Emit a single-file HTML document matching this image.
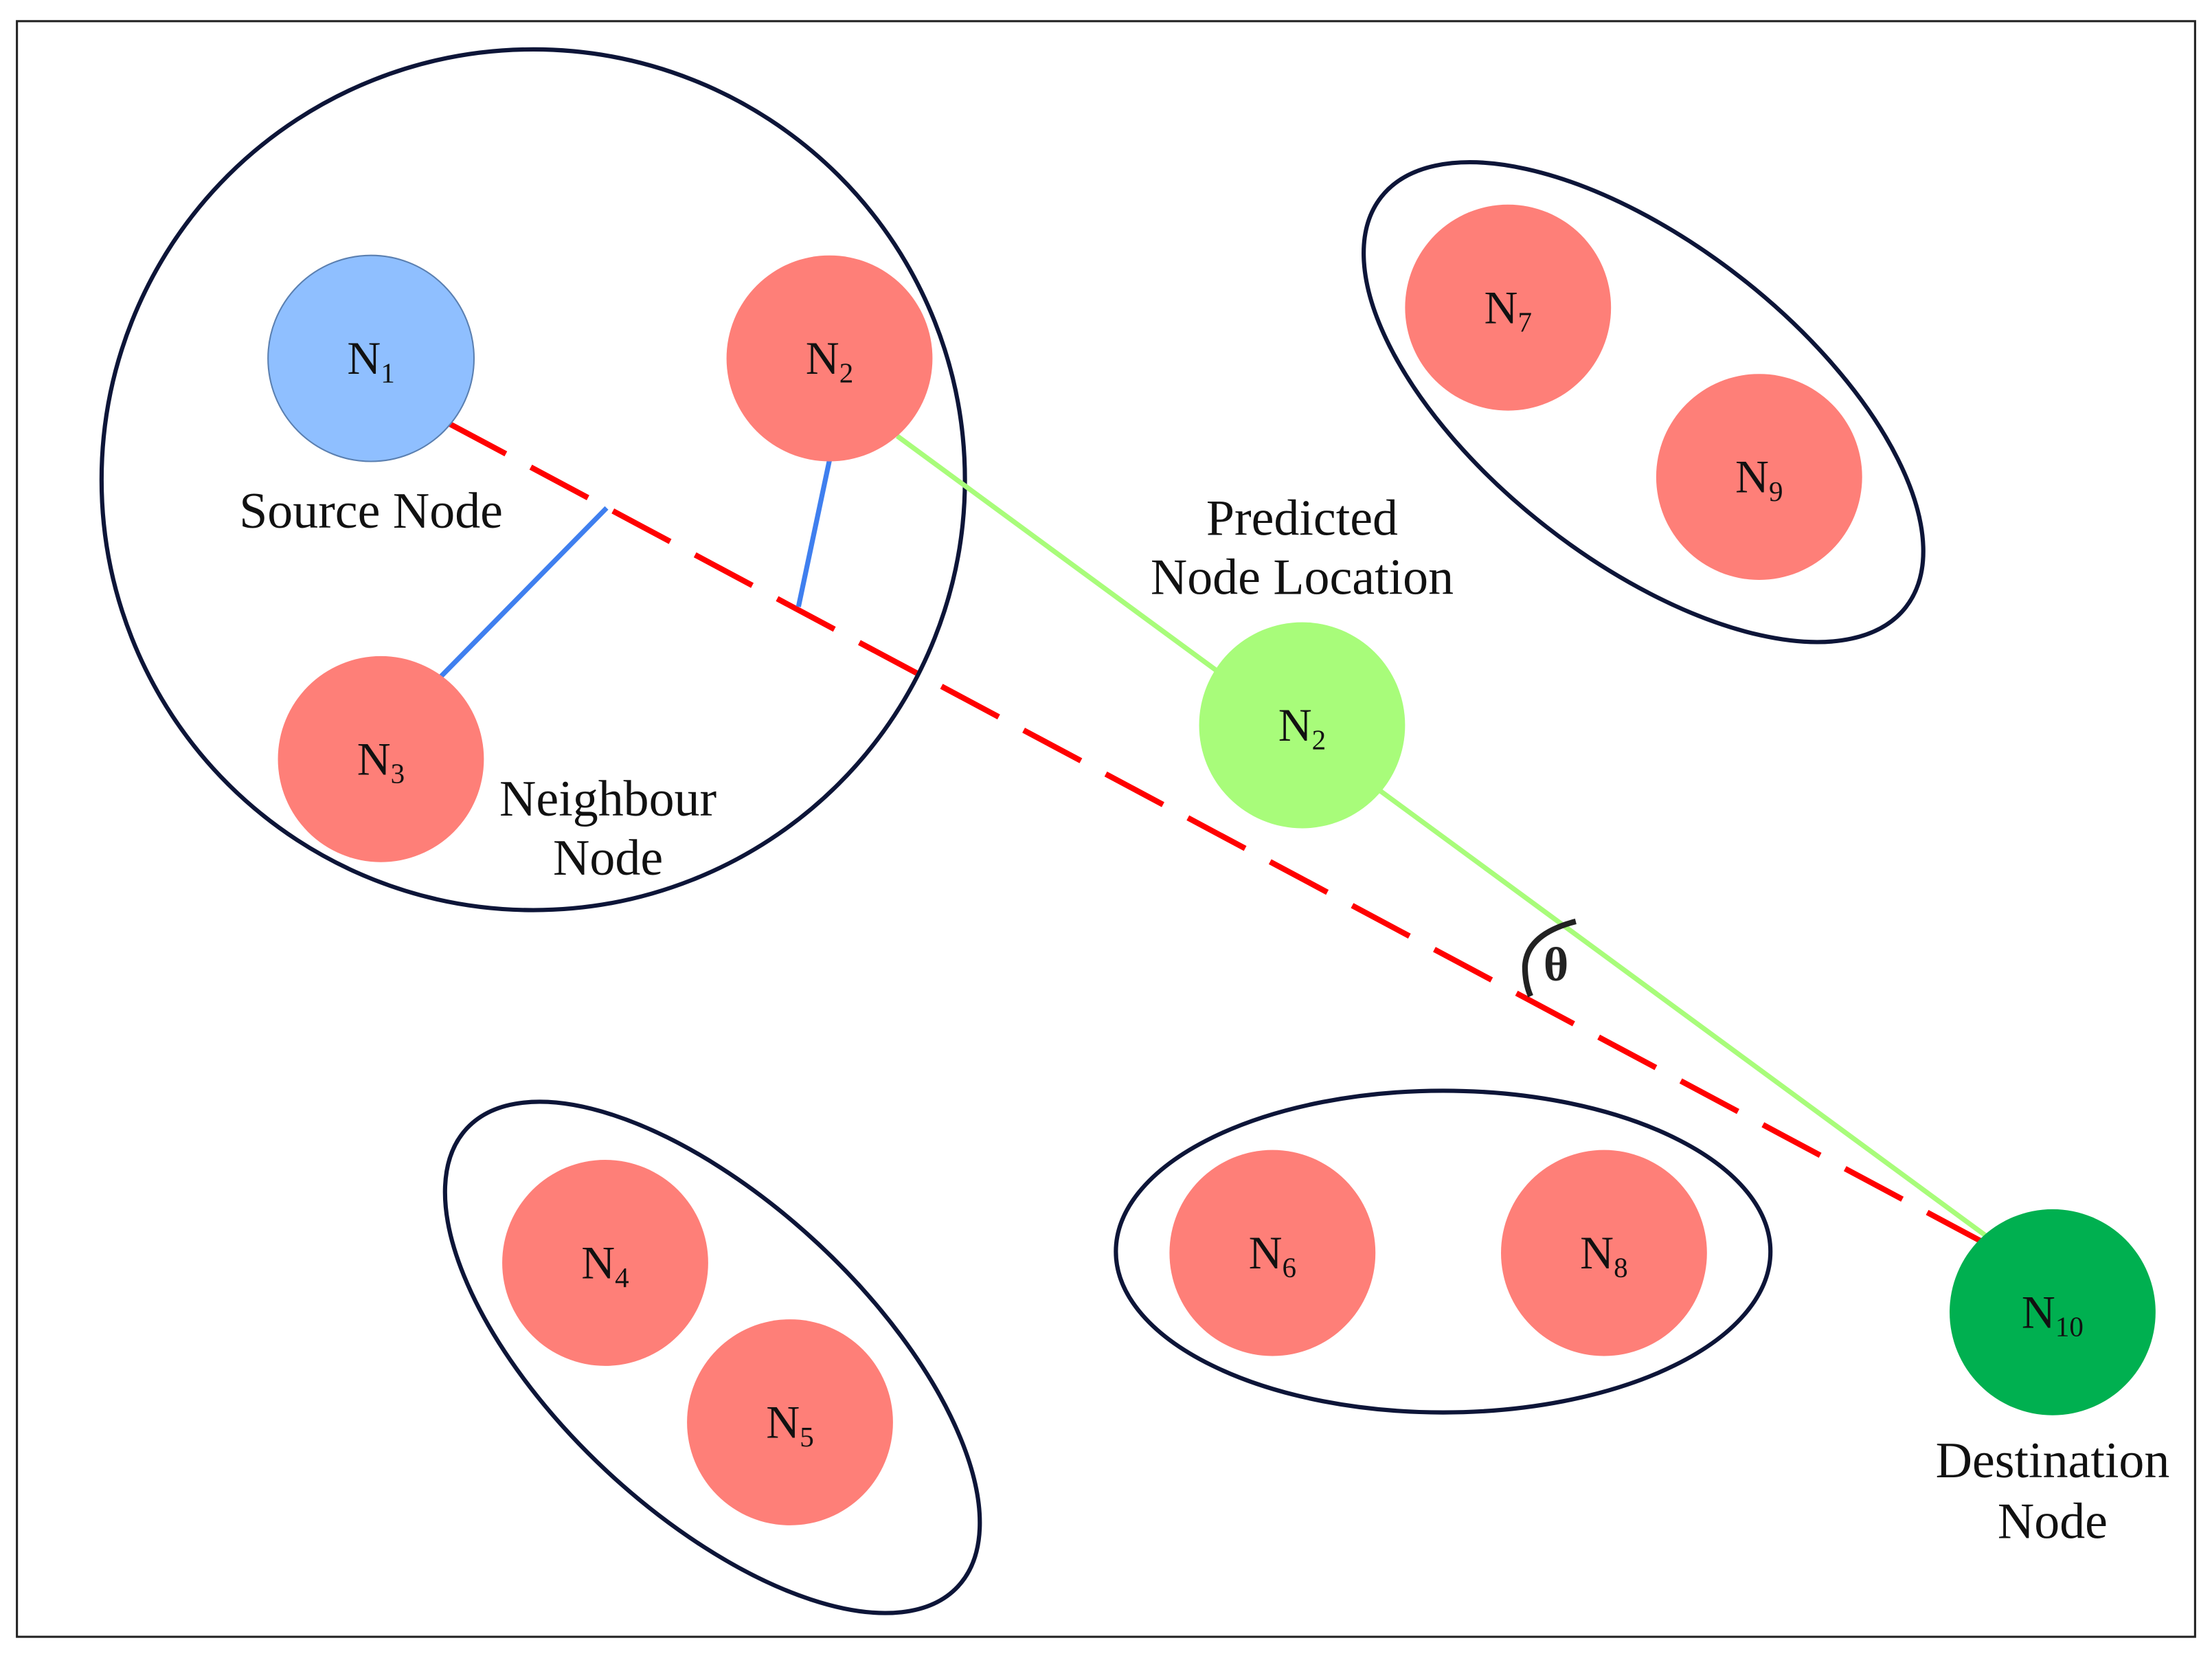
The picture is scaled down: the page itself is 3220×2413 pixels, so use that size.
<!DOCTYPE html>
<html><head><style>html,body{margin:0;padding:0;background:#fff}</style></head>
<body>
<svg width="3220" height="2408" viewBox="0 0 1568 1172.6" preserveAspectRatio="none" xmlns="http://www.w3.org/2000/svg" font-family="Liberation Serif, serif" fill="none">
<rect x="12" y="15" width="1544" height="1145" stroke="#222" stroke-width="1.5" fill="#fff"/>
<ellipse cx="378" cy="340" rx="306" ry="305" stroke="#0d1538" stroke-width="3"/>
<ellipse cx="1165" cy="285" rx="236" ry="112" transform="rotate(38 1165 285)" stroke="#0d1538" stroke-width="3"/>
<ellipse cx="505" cy="962" rx="238" ry="110" transform="rotate(43 505 962)" stroke="#0d1538" stroke-width="3"/>
<ellipse cx="1023" cy="887" rx="232" ry="114" stroke="#0d1538" stroke-width="3"/>
<line x1="318" y1="300" x2="1405" y2="880" stroke="#ff0000" stroke-width="4" stroke-dasharray="46,20"/>
<line x1="636" y1="309" x2="1408" y2="876" stroke="#a8fc7a" stroke-width="3.5"/>
<line x1="430" y1="360" x2="312" y2="480" stroke="#3f7fef" stroke-width="3.5"/>
<line x1="588" y1="326" x2="566" y2="430" stroke="#3f7fef" stroke-width="3.5"/>
<path d="M1117 653 Q1082 662 1081 685 Q1081 697 1085 706" stroke="#222" stroke-width="4"/>
<text x="1103" y="695" font-size="34" fill="#222" text-anchor="middle" font-weight="bold">θ</text>
<g stroke="none">
<circle cx="263" cy="254" r="73" fill="#8fbfff" stroke="#5a7fb0" stroke-width="1"/>
<circle cx="588" cy="254" r="73" fill="#fe7f78"/>
<circle cx="270" cy="538" r="73" fill="#fe7f78"/>
<circle cx="923" cy="514" r="73" fill="#a8fc7a"/>
<circle cx="1455" cy="930" r="73" fill="#00b050"/>
<circle cx="1069" cy="218" r="73" fill="#fe7f78"/>
<circle cx="1247" cy="338" r="73" fill="#fe7f78"/>
<circle cx="429" cy="895" r="73" fill="#fe7f78"/>
<circle cx="560" cy="1008" r="73" fill="#fe7f78"/>
<circle cx="902" cy="888" r="73" fill="#fe7f78"/>
<circle cx="1137" cy="888" r="73" fill="#fe7f78"/>
</g>
<g fill="#111" font-size="33" text-anchor="middle">
<text x="263" y="265">N<tspan font-size="20" dy="6">1</tspan></text>
<text x="588" y="265">N<tspan font-size="20" dy="6">2</tspan></text>
<text x="270" y="549">N<tspan font-size="20" dy="6">3</tspan></text>
<text x="923" y="525">N<tspan font-size="20" dy="6">2</tspan></text>
<text x="1455" y="941">N<tspan font-size="20" dy="6">10</tspan></text>
<text x="1069" y="229">N<tspan font-size="20" dy="6">7</tspan></text>
<text x="1247" y="349">N<tspan font-size="20" dy="6">9</tspan></text>
<text x="429" y="906">N<tspan font-size="20" dy="6">4</tspan></text>
<text x="560" y="1019">N<tspan font-size="20" dy="6">5</tspan></text>
<text x="902" y="899">N<tspan font-size="20" dy="6">6</tspan></text>
<text x="1137" y="899">N<tspan font-size="20" dy="6">8</tspan></text>
</g>
<g fill="#111" font-size="36" text-anchor="middle">
<text x="263" y="374">Source Node</text>
<text x="923" y="379">Predicted</text>
<text x="923" y="421">Node Location</text>
<text x="431" y="578">Neighbour</text>
<text x="431" y="620">Node</text>
<text x="1455" y="1047">Destination</text>
<text x="1455" y="1090">Node</text>
</g>
</svg>
</body></html>
